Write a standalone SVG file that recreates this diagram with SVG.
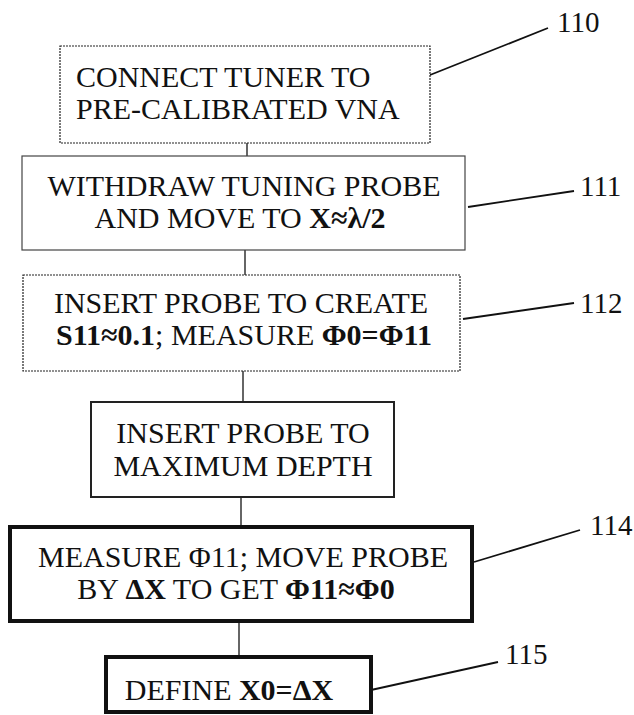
<svg xmlns="http://www.w3.org/2000/svg" width="634" height="715" viewBox="0 0 634 715">
<style>
text{font-family:"Liberation Serif","Times New Roman",serif;font-size:30px;fill:#111}
.c{text-anchor:middle}
.b{font-weight:bold}
.box{fill:#fff;stroke:#222}
.thin{stroke-width:1.2;stroke-dasharray:2 1}
.solid{stroke-width:1.2;stroke:#444}
.med{stroke-width:2}
.thick{stroke-width:4;stroke:#111}
.conn{stroke:#333;stroke-width:1.5;fill:none}
.lead{stroke:#111;stroke-width:1.8;fill:none}
.lbl{font-size:29px}
</style>
<rect width="634" height="715" fill="#fff"/>
<g id="connectors">
<line class="conn" x1="247" y1="143" x2="247" y2="156"/>
<line class="conn" x1="245" y1="250" x2="245" y2="275"/>
<line class="conn" x1="243" y1="371" x2="243" y2="402"/>
<line class="conn" x1="241" y1="497" x2="241" y2="527"/>
<line class="conn" x1="239" y1="621" x2="239" y2="657"/>
</g>
<g id="leaders">
<line class="lead" x1="430" y1="75" x2="548" y2="28"/>
<line class="lead" x1="468" y1="207" x2="574" y2="191"/>
<line class="lead" x1="463" y1="319" x2="574" y2="303"/>
<line class="lead" x1="474" y1="562" x2="580" y2="530"/>
<line class="lead" x1="371" y1="690" x2="498" y2="662"/>
</g>
<g id="n110">
<rect class="box thin" x="60" y="46" width="370" height="97"/>
<text x="76" y="87">CONNECT TUNER TO</text>
<text x="76" y="119">PRE-CALIBRATED VNA</text>
<text class="lbl" x="557" y="32">110</text>
</g>
<g id="n111">
<rect class="box solid" x="22" y="156" width="443" height="94"/>
<text class="c" x="244" y="196">WITHDRAW TUNING PROBE</text>
<text class="c" x="240" y="228">AND MOVE TO <tspan class="b">X≈λ/2</tspan></text>
<text class="lbl" x="580" y="196">111</text>
</g>
<g id="n112">
<rect class="box thin" x="23" y="275" width="437" height="96"/>
<text class="c" x="241" y="313">INSERT PROBE TO CREATE</text>
<text class="c" x="244" y="345"><tspan class="b">S11≈0.1</tspan>; MEASURE <tspan class="b">Φ0=Φ11</tspan></text>
<text class="lbl" x="580" y="313">112</text>
</g>
<g id="n113">
<rect class="box med" x="91" y="402" width="303" height="95"/>
<text class="c" x="243" y="443">INSERT PROBE TO</text>
<text class="c" x="243" y="476">MAXIMUM DEPTH</text>
</g>
<g id="n114">
<rect class="box thick" x="10" y="527" width="462" height="94"/>
<text class="c" x="243" y="567">MEASURE Φ11; MOVE PROBE</text>
<text class="c" x="236" y="599">BY <tspan class="b">ΔX</tspan> TO GET <tspan class="b">Φ11≈Φ0</tspan></text>
<text class="lbl" x="590" y="535">114</text>
</g>
<g id="n115">
<rect class="box thick" x="106" y="657" width="265" height="55"/>
<text class="c" x="229" y="700">DEFINE <tspan class="b">X0=ΔX</tspan></text>
<text class="lbl" x="505" y="664">115</text>
</g>
</svg>
